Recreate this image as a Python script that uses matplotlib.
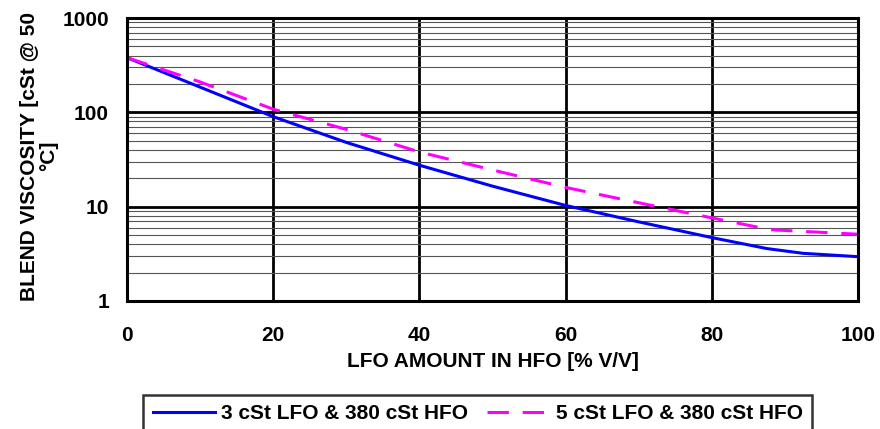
import matplotlib.pyplot as plt
from matplotlib.ticker import FixedLocator, LogLocator, NullFormatter

plt.rcParams['font.family'] = ['Liberation Sans', 'DejaVu Sans']

# LFO amount in HFO [% V/V]
lfo3_x = [0, 10, 20, 30, 40, 50, 60, 70, 80, 87.5, 92.5, 100]
lfo3_visc = [380, 185, 90, 48, 27.5, 16.5, 10.3, 6.9, 4.7, 3.6, 3.2, 2.95]

lfo5_x = [0, 10, 20, 30, 40, 50, 60, 70, 80, 88, 100]
lfo5_visc = [380, 210, 108, 66, 38, 24.5, 16, 11, 7.6, 5.7, 5.1]

x_ticks = [0, 20, 40, 60, 80, 100]
y_ticks = [1, 10, 100, 1000]
y_labels = ["1", "10", "100", "1000"]

FS = 15


def main():
    fig = plt.figure(figsize=(8.8, 4.29), dpi=100)
    ax = fig.add_axes([0.1443, 0.2984, 0.8307, 0.6596])

    ax.plot(lfo3_x, lfo3_visc, color="#0000FF", lw=2.2,
            label="3 cSt LFO & 380 cSt HFO")
    line5, = ax.plot(lfo5_x, lfo5_visc, color="#FF00FF", lw=2.2,
                     label="5 cSt LFO & 380 cSt HFO")
    line5.set_dashes((7, 4.5))

    ax.set_yscale("log")
    ax.set_xlim(0, 100)
    ax.set_ylim(1, 1000)

    # grid: thick major lines, thin minor lines on y
    ax.xaxis.set_major_locator(FixedLocator(x_ticks))
    ax.yaxis.set_major_locator(FixedLocator(y_ticks))
    ax.yaxis.set_minor_locator(LogLocator(base=10, subs=range(2, 10)))
    ax.yaxis.set_minor_formatter(NullFormatter())
    ax.set_yticklabels(y_labels)
    ax.grid(which="major", color="black", lw=2)
    ax.grid(which="minor", axis="y", color="#555555", lw=0.8)
    ax.set_axisbelow(True)

    ax.tick_params(which="both", length=0)
    ax.tick_params(axis="x", pad=18, labelsize=FS)
    ax.tick_params(axis="y", pad=13, labelsize=FS)
    for lbl in ax.get_xticklabels() + ax.get_yticklabels():
        lbl.set_fontweight("bold")

    for sp in ax.spines.values():
        sp.set_linewidth(2.2)
        sp.set_color("black")

    ax.set_xlabel("LFO AMOUNT IN HFO [% V/V]", fontsize=FS, fontweight="bold")
    ax.xaxis.set_label_coords(0.5, -0.215)
    ax.xaxis.label.set_va("center")
    ax.set_ylabel("BLEND VISCOSITY [cSt @ 50\n°C]", fontsize=FS,
                  fontweight="bold", linespacing=1.0)
    ax.yaxis.set_label_coords(-0.12, 0.512)
    ax.yaxis.label.set_va("center")

    leg = fig.legend(loc="upper center", bbox_to_anchor=(0.543, 0.08),
                     ncol=2, frameon=True, fancybox=False,
                     prop={"weight": "bold", "size": FS},
                     handlelength=3.0, columnspacing=0.9, handletextpad=0.3,
                     borderpad=0.45, borderaxespad=0)
    leg.get_frame().set_edgecolor("black")
    leg.get_frame().set_linewidth(1.8)

    fig.savefig("out.png", dpi=100)


main()
